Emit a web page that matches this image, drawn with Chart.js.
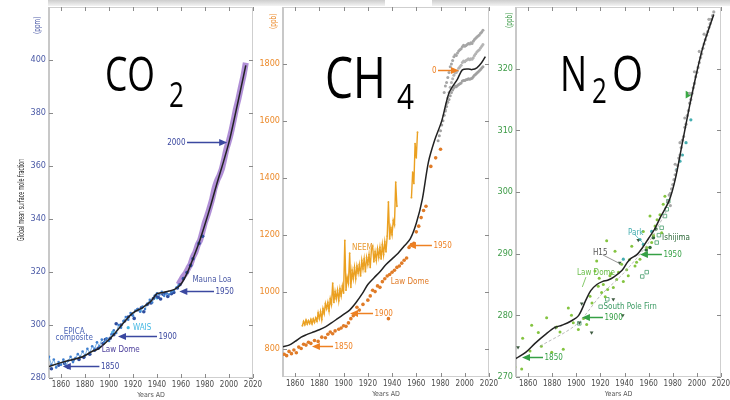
<!DOCTYPE html>
<html>
<head>
<meta charset="utf-8">
<script src="https://cdn.jsdelivr.net/npm/chart.js@4/dist/chart.umd.min.js"></script>
<style>
  body { margin:0; width:730px; height:400px; overflow:hidden; background:#fff; position:relative; }
  canvas { position:absolute; }
  .band { position:absolute; top:0; height:6px; background:linear-gradient(#cdcdcd,#f3f3f3); }
  .big  { position:absolute; font-family:'Open Sans','Noto Sans',sans-serif; color:#000; white-space:nowrap; transform-origin:0 0; }
  .rot  { position:absolute; white-space:nowrap; transform-origin:0 0; font-family:'DejaVu Sans Condensed','Liberation Sans Narrow','DejaVu Sans',sans-serif; }
</style>
</head>
<body>
<div class="band" style="left:48px;width:337px"></div>
<div class="band" style="left:432px;width:298px"></div>

<canvas id="co2" width="269" height="404" style="left:0;top:-3px"></canvas>
<canvas id="ch4" width="252" height="403" style="left:253px;top:-3px"></canvas>
<canvas id="n2o" width="251" height="403" style="left:486px;top:-3px"></canvas>

<div class="rot" style="left:17px;top:241px;font-size:8px;color:#222;transform:rotate(-90deg) scaleX(0.66)">Global mean surface mole fraction</div>
<div class="rot" style="left:33px;top:34px;font-size:8px;color:#4b5aa6;transform:rotate(-90deg) scaleX(0.8)">(ppm)</div>
<div class="rot" style="left:269px;top:29px;font-size:8px;color:#ec8b2c;transform:rotate(-90deg) scaleX(0.8)">(ppb)</div>
<div class="rot" style="left:505px;top:28px;font-size:8px;color:#3d9b47;transform:rotate(-90deg) scaleX(0.8)">(ppb)</div>

<div class="big" style="left:105px;top:49px;font-size:48px;line-height:48px;transform:scaleX(0.74)">CO</div>
<div class="big" style="left:169px;top:76px;font-size:35px;line-height:35px;transform:scaleX(0.74)">2</div>
<div class="big" style="left:325px;top:48px;font-size:57px;line-height:57px;transform:scaleX(0.78)">CH</div>
<div class="big" style="left:397px;top:78px;font-size:35px;line-height:35px;transform:scaleX(0.85)">4</div>
<div class="big" style="left:560px;top:47px;font-size:50px;line-height:50px;transform:scaleX(0.72)">N</div>
<div class="big" style="left:592px;top:72px;font-size:35px;line-height:35px;transform:scaleX(0.74)">2</div>
<div class="big" style="left:612px;top:47px;font-size:50px;line-height:50px;transform:scaleX(0.8)">O</div>

<script>
const FONT = "'DejaVu Sans Condensed','Liberation Sans Narrow','DejaVu Sans',sans-serif";
const YEAR_TICKS = [1860,1880,1900,1920,1940,1960,1980,2000,2020];

// ── CO2 (ppm) ──────────────────────────────────────────────────
const CO2_TICKS = [280,300,320,340,360,380,400];
const CO2_FIT = [[1850,284.3],[1860,285.8],[1870,287],[1878,288],[1885,289.8],[1892,291.3],[1900,294.5],
  [1906,297.5],[1912,300.8],[1920,304.6],[1928,306.6],[1935,309],[1940,311.8],[1945,312.3],[1950,312.8],
  [1955,313.5],[1960,315.5],[1965,319.5],[1970,325],[1975,331],[1980,338],[1985,345.5],[1990,353.5],
  [1995,361],[2000,369],[2005,379],[2010,389.5],[2014,398]];
const CO2_MAUNA_LOA = [[1958,315.3],[1960,316.9],[1962,318.4],[1964,319.6],[1966,321.4],[1968,323],[1970,325.7],
  [1972,327.5],[1974,330.2],[1976,332.1],[1978,335.4],[1980,338.8],[1982,341.4],[1984,344.4],[1986,347.6],
  [1988,351.6],[1990,354.4],[1992,356.4],[1994,358.8],[1996,362.6],[1998,366.7],[2000,369.6],[2002,373.2],
  [2004,377.5],[2006,381.9],[2008,385.6],[2010,389.9],[2012,393.9],[2014,399]];
const CO2_EPICA = [[1850,288],[1852,285],[1854,287],[1856,284],[1858,286],[1860,285],[1862,287],[1864,284.5],
  [1866,286.5],[1868,288],[1870,286],[1872,287.5],[1874,289],[1876,288],[1878,290],[1880,288.5],[1882,291],
  [1884,289.5],[1886,292],[1888,291],[1890,293.5],[1892,292],[1894,294.5],[1896,293.5],[1898,295],[1900,294],
  [1902,296.5],[1904,298],[1906,297],[1908,300],[1910,299],[1912,301.5],[1914,303],[1916,302],[1918,304.5],
  [1920,303.5],[1922,305.5],[1924,306],[1926,305],[1928,307],[1930,306],[1932,308],[1934,309.5],[1936,308.5],
  [1938,311],[1940,312],[1942,311.5],[1944,312.5],[1946,311],[1948,312],[1950,311.5],[1952,312.5],[1954,313],
  [1956,314],[1958,315]];
const CO2_LAW_DOME = [[1852,283.5],[1858,284.8],[1863,285.5],[1866,284],[1870,286.7],[1875,287],[1879,287.8],
  [1884,289],[1888,290.5],[1891,291.2],[1895,293],[1897,294.5],[1901,295],[1904,296.3],[1906,300.5],[1910,300],
  [1913,301.5],[1916,303],[1919,304],[1921,302.5],[1924,305.8],[1927,306.5],[1929,305],[1932,307.8],[1935,308.3],
  [1937,310],[1939,311],[1941,310.5],[1943,309.8],[1945,311.6],[1947,312],[1949,310.8],[1952,311.8],[1954,312.3],
  [1957,314],[1959,315.2],[1962,317.5],[1965,319.8],[1968,322.5],[1970,325],[1975,330.8],[1978,333.5]];
const CO2_WAIS = [[1916,299],[1903,297.2],[1926,305.4],[1940,310.2]];
const CO2_ARROWS = [
  { tip:1998.5, tail:1965, y:369, label:'2000' },
  { tip:1958.6, tail:1987.5, y:313, label:'1950' },
  { tip:1907.5, tail:1940, y:296, label:'1900' },
  { tip:1861.5, tail:1892, y:284.6, label:'1850' }];
const CO2_NOTES = [
  { x:1969.5, y:317, text:'Mauna Loa', color:'#4b5aa6' },
  { x:1920, y:299, text:'WAIS', color:'#45b8e3' },
  { x:1871, y:297.4, text:'EPICA', color:'#4a63b5', align:'center' },
  { x:1871, y:295, text:'composite', color:'#4a63b5', align:'center' },
  { x:1894, y:290.6, text:'Law Dome', color:'#4c3f9c' }];

// ── CH4 (ppb) ──────────────────────────────────────────────────
const CH4_TICKS = [800,1000,1200,1400,1600,1800];
const CH4_FIT = [[1850,806],[1855,812],[1860,825],[1865,840],[1869,848],[1875,858],[1880,866],[1885,876],
  [1890,890],[1895,905],[1900,920],[1905,935],[1910,960],[1915,990],[1920,1025],[1925,1048],[1930,1070],
  [1935,1095],[1940,1115],[1945,1135],[1950,1160],[1955,1185],[1960,1240],[1965,1325],[1970,1455],[1975,1530],
  [1981,1600],[1987,1698],[1994,1747],[1998,1779],[2003,1782],[2006,1780],[2010,1786],[2014,1805],[2017,1826]];
const CH4_NEEM = [[1866,880],[1867,895],[1868,884],[1869,900],[1870,886],[1871,898],[1872,888],[1873,902],
  [1874,887],[1875,904],[1876,892],[1877,908],[1878,896],[1879,925],[1880,905],[1881,930],[1882,902],[1883,940],
  [1884,922],[1885,958],[1886,940],[1887,962],[1888,932],[1889,975],[1890,955],[1891,1030],[1892,962],
  [1893,1000],[1894,975],[1895,1005],[1896,968],[1897,1010],[1898,985],[1899,1020],[1900,995],[1901,1180],
  [1902,1005],[1903,1050],[1904,1030],[1905,1135],[1906,1015],[1907,1075],[1908,1045],[1909,1085],[1910,1045],
  [1911,1090],[1912,1065],[1913,1095],[1914,1055],[1915,1110],[1916,1080],[1917,1115],[1918,1070],[1919,1120],
  [1920,1095],[1921,1130],[1922,1085],[1923,1150],[1924,1160],[1925,1105],[1926,1140],[1927,1110],[1928,1150],
  [1929,1120],[1930,1155],[1931,1115],[1932,1165],[1933,1130],[1934,1175],[1935,1140],[1936,1195],[1937,1315],
  [1938,1185],[1939,1225],[1940,1200],[1941,1250],[1942,1235],[1943,1385],[1944,1300],[1945,null],
  [1956,1330],[1957,1420],[1958,1380],[1959,1520],[1960,1470],[1961,1560]];
const CH4_LAW_DOME = [[1851,780],[1853,775],[1855,790],[1857,782],[1859,795],[1861,785],[1863,805],[1865,800],
  [1867,815],[1869,812],[1871,822],[1873,818],[1876,828],[1879,825],[1882,840],[1885,838],[1887,850],[1889,858],
  [1891,852],[1893,862],[1896,868],[1898,872],[1900,880],[1902,878],[1904,890],[1906,905],[1908,915],[1911,945],
  [1913,935],[1916,955],[1920,970],[1922,985],[1924,1005],[1926,1000],[1928,1020],[1930,1015],[1932,1035],
  [1934,1045],[1936,1055],[1937,905],[1938,1060],[1940,1068],[1942,1075],[1944,1085],[1946,1090],[1948,1100],
  [1950,1110],[1952,1118],[1954,1155],[1956,1165],[1958,1170],[1960,1210],[1962,1230],[1964,1260],[1966,1285],
  [1968,1300],[1972,1440],[1976,1470],[1980,1500]];
const CH4_SITES_HIGH = [[1983,1700],[1984,1722],[1985,1735],[1986,1752],[1987,1770],[1988,1790],[1989,1800],
  [1990,1812],[1991,1825],[1992,1832],[1993,1830],[1994,1838],[1995,1845],[1996,1850],[1997,1853],[1998,1860],
  [1999,1866],[2000,1862],[2001,1865],[2002,1868],[2003,1872],[2004,1870],[2005,1874],[2006,1872],[2007,1880],
  [2008,1886],[2009,1890],[2010,1895],[2011,1898],[2012,1902],[2013,1908],[2014,1912],[2015,1918]];
const CH4_SITES_MID = [[1984,1640],[1985,1660],[1986,1680],[1987,1700],[1988,1718],[1989,1735],[1990,1748],
  [1991,1760],[1992,1768],[1993,1770],[1994,1776],[1995,1785],[1996,1790],[1997,1795],[1998,1805],[1999,1810],
  [2000,1808],[2001,1812],[2002,1815],[2003,1818],[2004,1815],[2005,1818],[2006,1816],[2007,1822],[2008,1830],
  [2009,1836],[2010,1842],[2011,1846],[2012,1850],[2013,1856],[2014,1862],[2015,1868]];
const CH4_SITES_LOW = [[1978,1530],[1979,1548],[1980,1565],[1981,1585],[1982,1600],[1983,1620],[1984,1635],
  [1985,1650],[1986,1665],[1987,1675],[1988,1688],[1989,1700],[1990,1708],[1991,1715],[1992,1722],[1993,1720],
  [1994,1724],[1995,1728],[1996,1730],[1997,1733],[1998,1740],[1999,1742],[2000,1742],[2001,1744],[2002,1745],
  [2003,1748],[2004,1746],[2005,1748],[2006,1750],[2007,1755],[2008,1760],[2009,1764],[2010,1768],[2011,1772],
  [2012,1776],[2013,1780],[2014,1786],[2015,1790]];
const CH4_ARROWS = [
  { tip:1995.2, tail:1977.9, y:1779, label:'0' },
  { tip:1953.1, tail:1972.9, y:1164, label:'1950' },
  { tip:1905.3, tail:1924.3, y:925, label:'1900' },
  { tip:1873.9, tail:1891.3, y:809, label:'1850' }];
const CH4_NOTES = [
  { x:1907, y:1153, text:'NEEM', color:'#e89a30' },
  { x:1939, y:1034, text:'Law Dome', color:'#e07b27' }];

// ── N2O (ppb) ──────────────────────────────────────────────────
const N2O_TICKS = [270,280,290,300,310,320];
const N2O_FIT = [[1850,273],[1858,274],[1866,275.5],[1875,277],[1882,278],[1888,278.4],[1895,279],[1902,280],
  [1908,282.5],[1912,284],[1917,285],[1922,285.5],[1926,285.7],[1931,286.2],[1938,287.3],[1942,288.5],
  [1945,289.2],[1950,289.8],[1955,291],[1960,292.5],[1965,294],[1970,296],[1977,298.6],[1982,302],[1988,308],
  [1994,314],[2000,319.5],[2005,323.5],[2010,326.5],[2014,328.8]];
const N2O_SPLINE = [[1870,275],[1900,278.5],[1920,283.2],[1940,287],[1960,291.8],[1975,297]];
const N2O_LAW_DOME = [[1849,271.6],[1854.7,271.3],[1855.5,276.3],[1861.6,274.2],[1863,278.4],[1868.5,277.2],
  [1871,275],[1875.4,279.6],[1879.6,274],[1883.7,278.1],[1886.5,277.3],[1889.2,274.5],[1893.4,281.2],
  [1896,280],[1897.5,278.8],[1901.7,277.7],[1906,279.5],[1908.6,278.5],[1911.4,283.1],[1913,282],[1915.5,287.2],
  [1916.9,288.8],[1918.2,284.7],[1919,286],[1921,283.7],[1922.4,285],[1924,283],[1925.2,292.1],[1926,284.2],
  [1927.9,286.4],[1929,286.8],[1930.7,284.5],[1932.1,290.4],[1933.5,285.8],[1935,287],[1937.6,288.3],[1939,285.5],
  [1941.8,287.4],[1943.1,286.4],[1944,289],[1946,291.2],[1948.7,288],[1950,288.6],[1952.8,289.1],[1955.6,293.6],
  [1957,290],[1958.4,291],[1961.1,296.1],[1962.5,291.8],[1964,293],[1965.3,294.5],[1967,295.5],[1969.4,296.3],
  [1970.8,293.4],[1972.1,298],[1973.5,299.3]];
const N2O_H15 = [[1851.7,274.8],[1883,278],[1902.5,278.8],[1904.5,281.9],[1912.7,277.2],[1930.7,282.6],
  [1936,288.5],[1938.5,280],[1951.4,292.2]];
const N2O_FIRN = [[1902.5,278.7],[1920.2,281.4],[1925.7,282.6],[1954.7,286.3],[1958.4,287],[1966.7,291.8],
  [1968.5,293],[1970.8,294.2],[1973.5,296.1],[1975,297.2],[1976.3,298.5]];
const N2O_PARK = [[1939,289.1],[1952.8,292.3],[1955.6,291.5],[1962.5,293.6],[1983,303.6],[1986,305],
  [1988,306],[1991,308],[1995,311.7]];
const N2O_ISHIJIMA = [[1958,290.6],[1961.1,291],[1963.9,292.6],[1966,294]];
const N2O_MODERN = [[1976,298.5],[1977,299.5],[1978,297.8],[1978,299.8],[1979,300.5],[1980,301.2],[1981,302],
  [1982,302.8],[1982,304.5],[1983,303.5],[1984,304.3],[1985,305.5],[1986,306],[1986,308],[1987,307.2],
  [1988,308.4],[1989,309],[1990,310.5],[1990,312],[1991,311],[1992,312.4],[1993,313.2],[1994,314.4],[1994,316],
  [1995,315],[1996,316],[1997,316.9],[1998,317.6],[1998,319.5],[1999,318.7],[2000,319.4],[2001,320.2],
  [2002,321],[2002,322.8],[2003,321.8],[2004,322.4],[2005,323.3],[2006,324],[2006,325.6],[2007,324.7],
  [2008,325.4],[2009,326],[2010,326.7],[2010,328],[2011,327.3],[2012,328],[2013,328.6],[2014,329.2]];
const N2O_MARKER = [[1992.6,315.8]];
const N2O_ARROWS = [
  { tip:1952.8, tail:1971, y:289.9, label:'1950' },
  { tip:1904.7, tail:1922.1, y:279.7, label:'1900' },
  { tip:1855, tail:1872.4, y:273.2, label:'1850' }];
const N2O_NOTES = [
  { x:1942.9, y:293.4, text:'Park', color:'#45aeb0' },
  { x:1971.1, y:292.6, text:'Ishijima', color:'#2f6a3a' },
  { x:1913.8, y:290.2, text:'H15', color:'#555' },
  { x:1900.6, y:286.8, text:'Law Dome', color:'#68bd48' },
  { x:1922.6, y:281.3, text:'South Pole Firn', color:'#3a9a62' }];
const N2O_LEADERS = [
  { from:[1922,289.8], to:[1936,288.4], color:'#777' },
  { from:[1908,286.2], to:[1905,284.6], color:'#68bd48' },
  { from:[1948,293.2], to:[1955,291.8], color:'#45aeb0' }];

// ── Drawing ────────────────────────────────────────────────────

const pts = arr => arr.map(([x, y]) => ({ x, y }));
const line = (data, color, width, extra) => ({ data: pts(data), showLine: true, borderColor: color,
  borderWidth: width, pointRadius: 0, tension: 0.3, spanGaps: false, ...extra });
const dots = (data, color, r, extra) => ({ data: pts(data), showLine: false, pointRadius: r,
  pointBackgroundColor: color, pointBorderColor: color, pointBorderWidth: 0, ...extra });

const framePlugin = {
  id: 'frame',
  beforeDatasetsDraw(chart) {
    const { ctx, chartArea: a, scales: { x, y } } = chart;
    ctx.save();
    ctx.strokeStyle = '#cfcfcf'; ctx.lineWidth = 1;
    ctx.strokeRect(a.left + 0.5, a.top + 0.5, a.width - 1, a.height - 1);
    ctx.lineWidth = 2; ctx.strokeStyle = '#c8c8c8';
    ctx.beginPath(); ctx.moveTo(a.left, a.top); ctx.lineTo(a.left, a.bottom); ctx.stroke();
    ctx.strokeStyle = '#8a8a8a'; ctx.lineWidth = 1;
    ctx.beginPath();
    x.ticks.forEach(t => {
      const px = Math.round(x.getPixelForValue(t.value)) + 0.5;
      ctx.moveTo(px, a.top); ctx.lineTo(px, a.top + 4);
      ctx.moveTo(px, a.bottom); ctx.lineTo(px, a.bottom - 4);
    });
    y.ticks.forEach(t => {
      const py = Math.round(y.getPixelForValue(t.value)) + 0.5;
      ctx.moveTo(a.left, py); ctx.lineTo(a.left + 4, py);
      ctx.moveTo(a.right, py); ctx.lineTo(a.right - 4, py);
    });
    ctx.stroke();
    ctx.restore();
  },
  afterDatasetsDraw(chart, args, o) {
    const { ctx, scales: { x, y } } = chart;
    ctx.save();
    ctx.font = '8px ' + FONT;
    ctx.textBaseline = 'middle';
    (o.leaders || []).forEach(l => {
      ctx.strokeStyle = l.color; ctx.lineWidth = 0.8;
      ctx.beginPath();
      ctx.moveTo(x.getPixelForValue(l.from[0]), y.getPixelForValue(l.from[1]));
      ctx.lineTo(x.getPixelForValue(l.to[0]), y.getPixelForValue(l.to[1]));
      ctx.stroke();
    });
    (o.arrows || []).forEach(a => {
      const tip = x.getPixelForValue(a.tip), tail = x.getPixelForValue(a.tail);
      const py = Math.round(y.getPixelForValue(a.y)) + 0.5;
      const dir = Math.sign(tail - tip);
      ctx.strokeStyle = o.arrowColor; ctx.fillStyle = o.arrowColor; ctx.lineWidth = 1.5;
      ctx.beginPath(); ctx.moveTo(tip + dir * 6, py); ctx.lineTo(tail, py); ctx.stroke();
      ctx.beginPath(); ctx.moveTo(tip, py); ctx.lineTo(tip + dir * 8, py - 3.5); ctx.lineTo(tip + dir * 8, py + 3.5);
      ctx.closePath(); ctx.fill();
      ctx.textAlign = dir > 0 ? 'left' : 'right';
      ctx.fillText(a.label, tail + dir * 1.5, py + 0.5);
    });
    (o.notes || []).forEach(n => {
      ctx.fillStyle = n.color;
      ctx.textAlign = n.align || 'left';
      ctx.fillText(n.text, x.getPixelForValue(n.x), y.getPixelForValue(n.y));
    });
    ctx.restore();
  }
};

function panel(id, o) {
  return new Chart(document.getElementById(id), {
    type: 'scatter',
    data: { datasets: o.datasets },
    options: {
      responsive: false, animation: false, events: [],
      layout: { padding: { top: 10, right: 16, left: 0, bottom: 0 } },
      plugins: {
        legend: { display: false }, tooltip: { enabled: false },
        frame: { arrows: o.arrows, notes: o.notes, leaders: o.leaders, arrowColor: o.arrowColor }
      },
      scales: {
        x: {
          type: 'linear', min: 1850, max: 2020,
          afterBuildTicks: s => { s.ticks = YEAR_TICKS.map(v => ({ value: v })); },
          afterFit: s => { s.height = o.xHeight; },
          grid: { display: false, drawTicks: false }, border: { display: false },
          ticks: { color: '#4a4a4a', font: { size: 8, family: FONT }, padding: 2, maxRotation: 0, autoSkip: false,
                   callback: v => String(v) },
          title: { display: true, text: 'Years AD', color: '#555', font: { size: 7, family: FONT }, padding: { top: 0, bottom: 2 } }
        },
        y: {
          type: 'linear', min: o.yMin, max: o.yMax,
          afterBuildTicks: s => { s.ticks = o.yTicks.map(v => ({ value: v })); },
          afterFit: s => { s.width = o.yWidth; },
          grid: { display: false, drawTicks: false }, border: { display: false },
          ticks: { color: o.color, font: { size: 9, family: FONT }, padding: 3, autoSkip: false,
                   callback: v => String(v) }
        }
      }
    },
    plugins: [framePlugin]
  });
}

panel('co2', {
  yMin: 280, yMax: 420, yTicks: CO2_TICKS, yWidth: 49, xHeight: 23, color: '#4b5aa6', arrowColor: '#3b48a0',
  arrows: CO2_ARROWS, notes: CO2_NOTES,
  datasets: [
    line(CO2_FIT, '#222', 1.5),
    line(CO2_EPICA, 'rgba(110,170,225,0.9)', 1, { tension: 0, pointRadius: 1.3, pointBackgroundColor: '#3f7fcf', pointBorderWidth: 0 }),
    dots(CO2_LAW_DOME, '#2e4d9e', 1.8),
    dots(CO2_WAIS, '#45b8e3', 1.6),
    line(CO2_MAUNA_LOA, 'rgba(150,105,200,0.75)', 6, { tension: 0.2 })
  ]
});

panel('ch4', {
  yMin: 700, yMax: 2000, yTicks: CH4_TICKS, yWidth: 30, xHeight: 23, color: '#ec8b2c', arrowColor: '#ee8022',
  arrows: CH4_ARROWS, notes: CH4_NOTES,
  datasets: [
    line(CH4_FIT, '#222', 1.5),
    line(CH4_NEEM, '#eba020', 1.4, { tension: 0, pointRadius: 0.9, pointBackgroundColor: '#e9a52a', pointBorderWidth: 0 }),
    dots(CH4_LAW_DOME, '#e07b27', 1.8),
    dots(CH4_SITES_HIGH, '#a6a6a6', 1.5),
    dots(CH4_SITES_MID, '#b4b4b4', 1.5),
    dots(CH4_SITES_LOW, '#a0a0a0', 1.5)
  ]
});

panel('n2o', {
  yMin: 270, yMax: 330, yTicks: N2O_TICKS, yWidth: 30, xHeight: 23, color: '#3d9b47', arrowColor: '#35a045',
  arrows: N2O_ARROWS, notes: N2O_NOTES, leaders: N2O_LEADERS,
  datasets: [
    line(N2O_FIT, '#222', 1.5),
    line(N2O_SPLINE, '#aaa', 0.8, { borderDash: [3, 2] }),
    dots(N2O_MODERN, '#a8a8a8', 1.6),
    dots(N2O_LAW_DOME, '#84c440', 1.5),
    dots(N2O_H15, '#3d5a40', 2.2, { pointStyle: 'triangle', rotation: 180 }),
    dots(N2O_FIRN, '#fff', 2.5, { pointStyle: 'rect', pointBorderColor: '#4aa070', pointBorderWidth: 0.8 }),
    dots(N2O_PARK, '#45aeb0', 1.6),
    dots(N2O_ISHIJIMA, '#2f6a3a', 1.8),
    dots(N2O_MARKER, '#3aa845', 4.5, { pointStyle: 'triangle', rotation: 90 })
  ]
});
</script>
</body>
</html>
